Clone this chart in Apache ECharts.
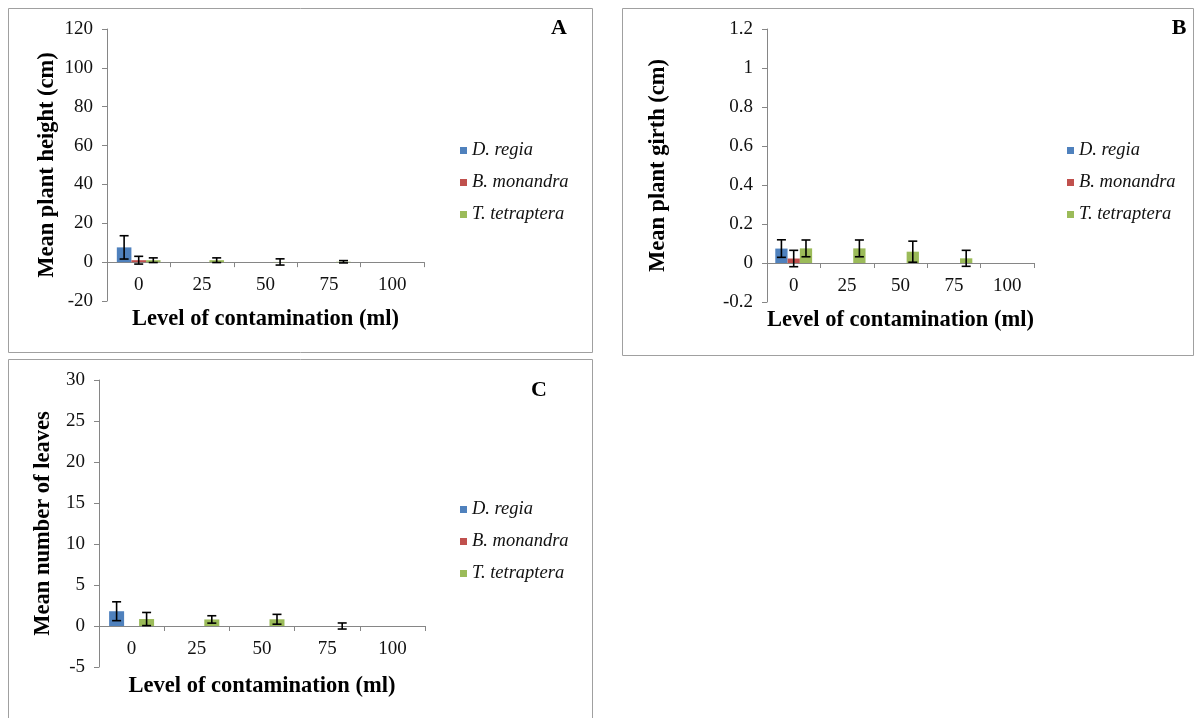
<!DOCTYPE html>
<html>
<head>
<meta charset="utf-8">
<script src="https://cdn.jsdelivr.net/npm/echarts@6/dist/echarts.min.js"></script>
<style>
html,body{margin:0;padding:0;background:#fff;}
#chart{width:1195px;height:718px;}
</style>
</head>
<body>
<div id="chart"></div>
<script>
// ---------- data ----------
const categories = ['0', '25', '50', '75', '100'];
const seriesNames = ['D. regia', 'B. monandra', 'T. tetraptera'];

// Panel A: mean plant height (cm)
const heightRegia = [7.6, 0, 0, 0, 0];
const heightRegiaErr = [6.0, null, null, null, null];
const heightMonandra = [1.0, 0, 0, 0, 0];
const heightMonandraErr = [2.0, null, null, null, null];
const heightTetraptera = [1.0, 1.0, 0.1, 0.2, 0];
const heightTetrapteraErr = [1.2, 1.2, 1.6, 0.6, null];

// Panel B: mean plant girth (cm)
const girthRegia = [0.074, 0, 0, 0, 0];
const girthRegiaErr = [0.045, null, null, null, null];
const girthMonandra = [0.023, 0, 0, 0, 0];
const girthMonandraErr = [0.042, null, null, null, null];
const girthTetraptera = [0.075, 0.075, 0.058, 0.024, 0];
const girthTetrapteraErr = [0.043, 0.043, 0.054, 0.041, null];

// Panel C: mean number of leaves
const leavesRegia = [1.8, 0, 0, 0, 0];
const leavesRegiaErr = [1.15, null, null, null, null];
const leavesMonandra = [0, 0, 0, 0, 0];
const leavesMonandraErr = [null, null, null, null, null];
const leavesTetraptera = [0.85, 0.8, 0.82, 0, 0];
const leavesTetrapteraErr = [0.8, 0.45, 0.6, 0.37, null];

// axis tick settings
const yA = {min: -20, max: 120, interval: 20};
const yB = {min: -0.2, max: 1.2, interval: 0.2};
const yC = {min: -5, max: 30, interval: 5};

// ---------- style ----------
const COLORS = ['#4F81BD', '#C0504D', '#9BBB59'];
const FONT = '"Liberation Serif", "Times New Roman", serif';
const AXIS_COLOR = '#868686';
const GAP = 0.31;
const TITLE_SIZE = 22.5;
const TICK_SIZE = 19;
const LEGEND_SIZE = 18.5;

const panels = [
  {vals: [heightRegia, heightMonandra, heightTetraptera],
   errs: [heightRegiaErr, heightMonandraErr, heightTetrapteraErr],
   y: yA, yName: 'Mean plant height (cm)',
   grid: {left: 107, top: 29, width: 317, height: 272},
   yNameGap: 48, xNameGap: 45.5, legend: {left: 455, top: 136}},
  {vals: [girthRegia, girthMonandra, girthTetraptera],
   errs: [girthRegiaErr, girthMonandraErr, girthTetrapteraErr],
   y: yB, yName: 'Mean plant girth (cm)',
   grid: {left: 767, top: 29, width: 267, height: 273},
   yNameGap: 97, xNameGap: 45.5, legend: {left: 1062, top: 136}},
  {vals: [leavesRegia, leavesMonandra, leavesTetraptera],
   errs: [leavesRegiaErr, leavesMonandraErr, leavesTetrapteraErr],
   y: yC, yName: 'Mean number of leaves',
   grid: {left: 99, top: 380, width: 326, height: 287},
   yNameGap: 44, xNameGap: 49, legend: {left: 455, top: 495}}
];

function errRenderer(k) {
  return function (params, api) {
    const cat = api.value(0), mean = api.value(1), err = api.value(2);
    const catW = api.size([1, 0])[0];
    const barW = catW * (1 - GAP) / 3;
    const off = (k - 1) * barW;
    const hi = api.coord([cat, mean + err]);
    const lo = api.coord([cat, mean - err]);
    const x = hi[0] + off;
    const cap = 4.5;
    const st = {stroke: '#000', lineWidth: 1.6};
    return {
      type: 'group',
      children: [
        {type: 'line', shape: {x1: x, y1: hi[1], x2: x, y2: lo[1]}, style: st},
        {type: 'line', shape: {x1: x - cap, y1: hi[1], x2: x + cap, y2: hi[1]}, style: st},
        {type: 'line', shape: {x1: x - cap, y1: lo[1], x2: x + cap, y2: lo[1]}, style: st}
      ]
    };
  };
}

const grids = [], xAxes = [], yAxes = [], series = [], legends = [];
panels.forEach(function (p, i) {
  grids.push(Object.assign({containLabel: false}, p.grid));
  // the category axis sits at value 0 (labels next to it, as in the original)
  const zeroOffset = -p.grid.height * (0 - p.y.min) / (p.y.max - p.y.min);
  xAxes.push({
    type: 'category', gridIndex: i, data: categories, position: 'bottom', offset: zeroOffset,
    axisLine: {onZero: false, lineStyle: {color: AXIS_COLOR, width: 1}},
    axisTick: {show: true, length: 5, lineStyle: {color: AXIS_COLOR}},
    axisLabel: {margin: 13.5, fontSize: TICK_SIZE, color: '#111', fontFamily: FONT},
    splitLine: {show: false},
    name: 'Level of contamination (ml)', nameLocation: 'middle', nameGap: p.xNameGap,
    nameTextStyle: {fontSize: TITLE_SIZE, fontWeight: 'bold', color: '#000', fontFamily: FONT}
  });
  yAxes.push({
    type: 'value', gridIndex: i, min: p.y.min, max: p.y.max, interval: p.y.interval,
    axisLine: {show: true, lineStyle: {color: AXIS_COLOR, width: 1}},
    axisTick: {show: true, length: 5, lineStyle: {color: AXIS_COLOR}},
    axisLabel: {margin: 14, fontSize: TICK_SIZE, color: '#111', fontFamily: FONT},
    splitLine: {show: false},
    name: p.yName, nameLocation: 'middle', nameGap: p.yNameGap, nameRotate: 90,
    nameTextStyle: {fontSize: TITLE_SIZE, fontWeight: 'bold', color: '#000', fontFamily: FONT}
  });
  seriesNames.forEach(function (nm, k) {
    series.push({
      name: nm, type: 'bar', xAxisIndex: i, yAxisIndex: i,
      data: p.vals[k], barGap: '0%', barCategoryGap: (GAP * 100) + '%',
      itemStyle: {color: COLORS[k]}, silent: true, animation: false
    });
  });
  seriesNames.forEach(function (nm, k) {
    const d = [];
    p.errs[k].forEach(function (e, c) {
      if (e !== null) d.push([c, p.vals[k][c], e]);
    });
    if (d.length) {
      series.push({
        type: 'custom', xAxisIndex: i, yAxisIndex: i, data: d,
        renderItem: errRenderer(k), z: 5, silent: true, animation: false,
        encode: {x: 0, y: 1}, clip: false
      });
    }
  });
  legends.push({
    orient: 'vertical', left: p.legend.left, top: p.legend.top,
    data: seriesNames, icon: 'rect', itemWidth: 7, itemHeight: 7, itemGap: 13,
    itemStyle: {borderWidth: 0},
    selectedMode: false,
    textStyle: {fontSize: LEGEND_SIZE, fontStyle: 'italic', color: '#111', fontFamily: FONT, lineHeight: 19}
  });
});

const chart = echarts.init(document.getElementById('chart'), null, {renderer: 'canvas'});
chart.setOption({
  backgroundColor: '#fff',
  animation: false,
  color: COLORS,
  grid: grids, xAxis: xAxes, yAxis: yAxes, series: series, legend: legends,
  graphic: [
    {type: 'rect', shape: {x: 8.5, y: 8.5, width: 584, height: 344}, style: {fill: 'none', stroke: '#a0a0a0', lineWidth: 1}, silent: true},
    {type: 'rect', shape: {x: 622.5, y: 8.5, width: 571, height: 347}, style: {fill: 'none', stroke: '#a0a0a0', lineWidth: 1}, silent: true},
    {type: 'rect', shape: {x: 8.5, y: 359.5, width: 584, height: 380}, style: {fill: 'none', stroke: '#a0a0a0', lineWidth: 1}, silent: true},
    {type: 'text', x: 559, y: 28, style: {text: 'A', font: 'bold 22px ' + FONT, fill: '#000', textAlign: 'center', textVerticalAlign: 'middle'}, silent: true},
    {type: 'text', x: 1179, y: 28, style: {text: 'B', font: 'bold 22px ' + FONT, fill: '#000', textAlign: 'center', textVerticalAlign: 'middle'}, silent: true},
    {type: 'text', x: 539, y: 390, style: {text: 'C', font: 'bold 22px ' + FONT, fill: '#000', textAlign: 'center', textVerticalAlign: 'middle'}, silent: true}
  ]
});
</script>
</body>
</html>
